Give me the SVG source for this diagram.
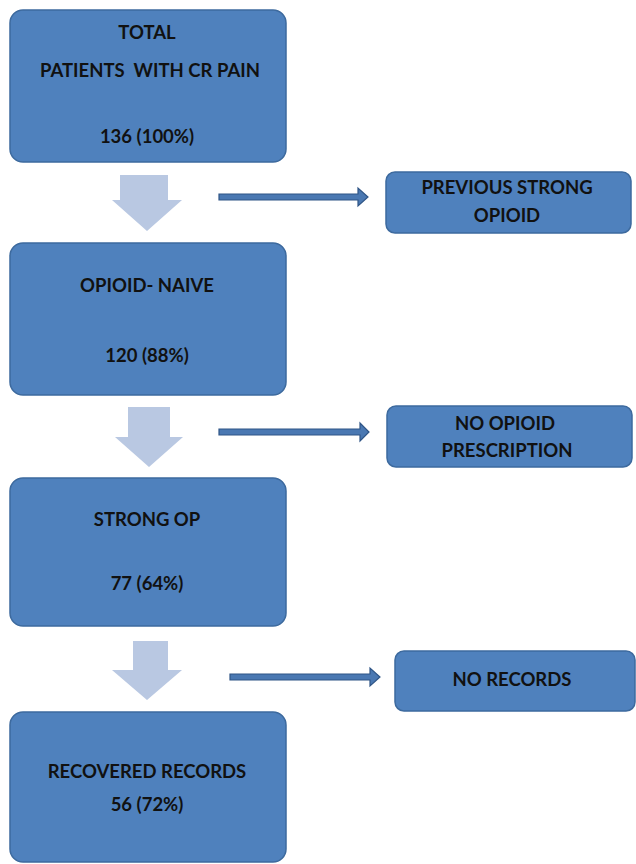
<svg xmlns="http://www.w3.org/2000/svg" width="636" height="864" viewBox="0 0 636 864">
<style>
.box{fill:#4f81bd;stroke:#3d6a9e;stroke-width:1.5}
.t{font-family:Lato,"Open Sans","Liberation Sans",sans-serif;font-weight:bold;font-size:18.5px;fill:#111;text-anchor:middle}
.down{fill:#b9c8e2}
.harrow{fill:#4a78b2;stroke:#2f5586;stroke-width:1.2}
</style>
<rect width="636" height="864" fill="#fff"/>
<g id="connectors">
<path class="down" d="M120,175 H168 V200 H182 L147,231 L112,200 H120 Z"/>
<path class="down" d="M128,407 H170 V437 H183 L149,467 L115,437 H128 Z"/>
<path class="down" d="M133,641 H168 V670 H182 L147,700 L112,670 H133 Z"/>
<path class="harrow" d="M219,194 H358 V188 L368,197 L358,206 V200 H219 Z"/>
<path class="harrow" d="M219,429 H360 V423 L369,432 L360,441 V435 H219 Z"/>
<path class="harrow" d="M230,674 H370 V668 L380,677 L370,686 V680 H230 Z"/>
</g>
<g id="n1"><rect class="box" x="10" y="10" width="276" height="152" rx="13"/>
<text class="t" x="147" y="39">TOTAL</text>
<text class="t" x="150" y="77" xml:space="preserve">PATIENTS  WITH CR PAIN</text>
<text class="t" x="147" y="143">136 (100%)</text></g>
<g id="n2"><rect class="box" x="10" y="243" width="276" height="152" rx="13"/>
<text class="t" x="147" y="292">OPIOID- NAIVE</text>
<text class="t" x="147" y="362">120 (88%)</text></g>
<g id="n3"><rect class="box" x="10" y="478" width="276" height="148" rx="13"/>
<text class="t" x="147" y="526">STRONG OP</text>
<text class="t" x="147" y="590">77 (64%)</text></g>
<g id="n4"><rect class="box" x="10" y="712" width="276" height="150" rx="13"/>
<text class="t" x="147" y="778">RECOVERED RECORDS</text>
<text class="t" x="147" y="811">56 (72%)</text></g>
<g id="s1"><rect class="box" x="386" y="172" width="245" height="61" rx="9"/>
<text class="t" x="507" y="194">PREVIOUS STRONG</text>
<text class="t" x="507" y="222">OPIOID</text></g>
<g id="s2"><rect class="box" x="387" y="406" width="245" height="61" rx="9"/>
<text class="t" x="505" y="430">NO OPIOID</text>
<text class="t" x="507" y="457">PRESCRIPTION</text></g>
<g id="s3"><rect class="box" x="395" y="651" width="240" height="60" rx="9"/>
<text class="t" x="512" y="686">NO RECORDS</text></g>
</svg>
